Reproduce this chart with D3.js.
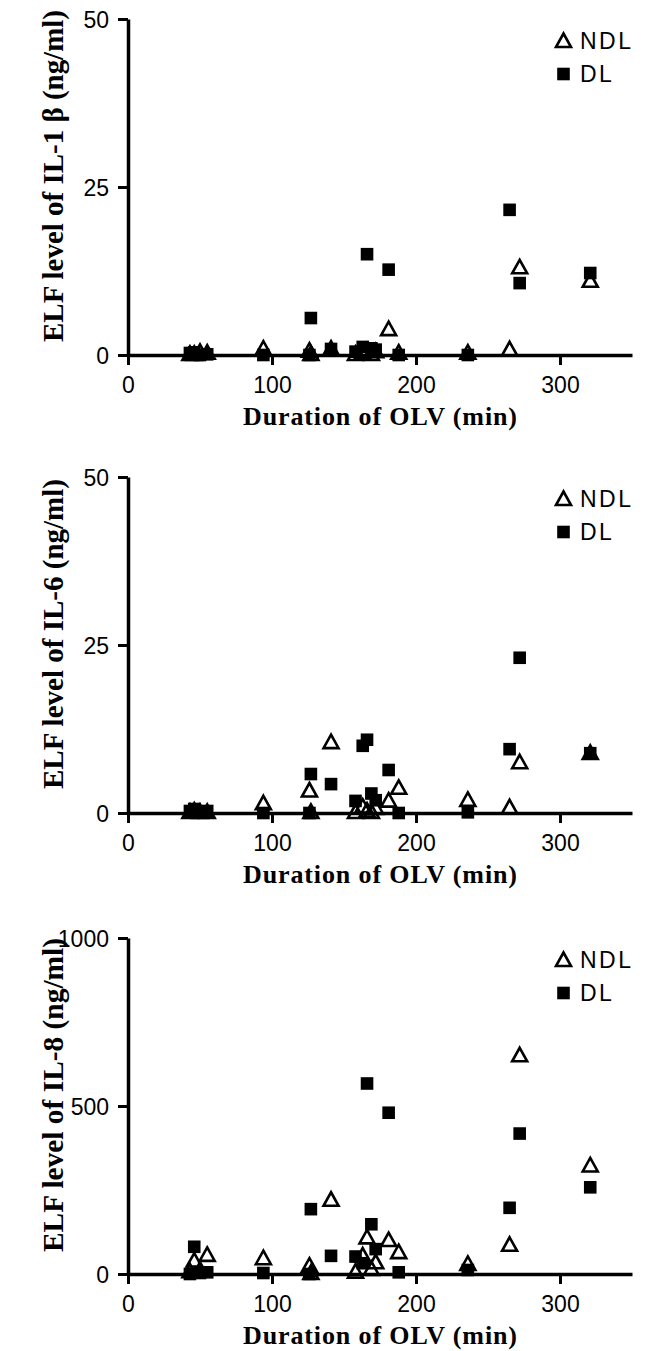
<!DOCTYPE html>
<html>
<head>
<meta charset="utf-8">
<script src="https://cdn.jsdelivr.net/npm/d3@7"></script>
<style>
  html, body { margin: 0; padding: 0; background: #fff; }
  svg { display: block; }
</style>
</head>
<body>
<svg id="chart" width="648" height="1351"></svg>
<script>
// Duration of OLV (min) for each patient (shared across panels)
const duration = [43, 46, 50, 55, 94, 126, 127, 141, 158, 163, 166, 169, 172, 181, 188, 236, 265, 272, 321];

// IL-1 beta (ng/ml)
const il1bNDL = [0, 0, 0.3, 0.2, 0.8, 0.5, 0, 0.8, 0, 0.3, 0.5, 0, 0.4, 3.7, 0.2, 0.2, 0.7, 12.9, 10.9];
const il1bDL  = [0.3, 0.4, 0, 0.1, 0, 0, 5.5, 0.9, 0.5, 1.2, 15.0, 1.0, 0.8, 12.7, 0, 0, 21.6, 10.7, 12.2];

// IL-6 (ng/ml)
const il6NDL = [0, 0.2, 0, 0, 1.3, 3.2, 0, 10.4, 0, 0.8, 0.2, 0, 0.6, 1.7, 3.6, 1.8, 0.7, 7.4, 8.8];
const il6DL  = [0.3, 0.6, 0.2, 0.3, 0, 0, 5.8, 4.3, 1.8, 10.0, 10.9, 2.9, 1.9, 6.4, 0, 0.1, 9.5, 23.1, 8.9];

// IL-8 (ng/ml)
const il8NDL = [5, 37, 10, 54, 44, 22, 0, 218, 4, 52, 106, 12, 32, 98, 62, 27, 84, 648, 320];
const il8DL  = [0, 81, 3, 5, 3, 0, 193, 54, 52, 32, 567, 148, 74, 480, 5, 12, 197, 418, 258];

const xTicks = [0, 100, 200, 300];
const yTicksSmall = [0, 25, 50];
const yTicksIL8 = [0, 500, 1000];
const yTitles = ["ELF level of IL-1 \u03b2 (ng/ml)", "ELF level of IL-6 (ng/ml)", "ELF level of IL-8 (ng/ml)"];
const xTitle = "Duration of OLV (min)";
const legendLabels = ["NDL", "DL"];

const panels = [
  { title: yTitles[0], titleLen: 332, yMax: 50, yTicks: yTicksSmall, ndl: il1bNDL, dl: il1bDL, top: 19, bottom: 355 },
  { title: yTitles[1], titleLen: 310, yMax: 50, yTicks: yTicksSmall, ndl: il6NDL, dl: il6DL, top: 477, bottom: 813 },
  { title: yTitles[2], titleLen: 314, yMax: 1000, yTicks: yTicksIL8, ndl: il8NDL, dl: il8DL, top: 938, bottom: 1274 }
];

const svg = d3.select("#chart");
const x = d3.scaleLinear().domain([0, 350]).range([128, 632]);
const tickFont = "'Liberation Sans', Arial, sans-serif";
const titleFont = "'Liberation Serif', 'Times New Roman', serif";
const triPath = "M0,-8.5L7.5,5L-7.5,5Z";

panels.forEach(p => {
  const y = d3.scaleLinear().domain([0, p.yMax]).range([p.bottom, p.top]);
  const g = svg.append("g");

  // Data: squares (DL) first, then open triangles (NDL)
  g.append("g").selectAll("rect").data(duration).join("rect")
    .attr("x", (d) => x(d) - 6.3)
    .attr("y", (d, i) => y(p.dl[i]) - 6.3)
    .attr("width", 12.6).attr("height", 12.6)
    .attr("fill", "#000");

  g.append("g").selectAll("path").data(duration).join("path")
    .attr("d", triPath)
    .attr("transform", (d, i) => `translate(${x(d)},${y(p.ndl[i])})`)
    .attr("fill", "none").attr("stroke", "#000").attr("stroke-width", 2.6)
    .attr("stroke-linejoin", "miter");

  // x axis
  const xa = g.append("g").attr("transform", `translate(0,${p.bottom})`)
    .call(d3.axisBottom(x).tickValues(xTicks).tickSize(10).tickSizeOuter(0).tickPadding(12).tickFormat(d3.format("d")));
  // y axis
  const ya = g.append("g").attr("transform", `translate(${x(0)},0)`)
    .call(d3.axisLeft(y).tickValues(p.yTicks).tickSize(10).tickSizeOuter(0).tickPadding(9).tickFormat(d3.format("d")));

  [xa, ya].forEach(a => {
    a.select(".domain").attr("stroke-width", 3.5).attr("stroke", "#000");
    a.selectAll(".tick line").attr("stroke-width", 3).attr("stroke", "#000");
    a.selectAll(".tick text").attr("font-family", tickFont).attr("font-size", 23).attr("fill", "#000");
  });
  ya.selectAll(".tick text").attr("dy", "0.36em");

  // titles
  g.append("text")
    .attr("x", (x(0) + x(350)) / 2).attr("y", p.bottom + 70)
    .attr("text-anchor", "middle")
    .attr("font-family", titleFont).attr("font-weight", "bold").attr("font-size", 26)
    .attr("textLength", 274)
    .text(xTitle);

  g.append("text")
    .attr("transform", `translate(63,${(p.top + p.bottom) / 2 - 11}) rotate(-90)`)
    .attr("text-anchor", "middle")
    .attr("font-family", titleFont).attr("font-weight", "bold").attr("font-size", 29)
    .attr("textLength", p.titleLen).attr("lengthAdjust", "spacingAndGlyphs")
    .text(p.title);

  // legend
  const lg = g.append("g");
  lg.append("path").attr("d", triPath)
    .attr("transform", `translate(563.5,${p.top + 23})`)
    .attr("fill", "none").attr("stroke", "#000").attr("stroke-width", 2.6);
  lg.append("rect").attr("x", 557.2).attr("y", p.top + 55 - 6.3)
    .attr("width", 12.6).attr("height", 12.6).attr("fill", "#000");
  lg.append("text").attr("x", 580).attr("y", p.top + 30)
    .attr("font-family", tickFont).attr("font-size", 23).attr("letter-spacing", 2.5)
    .text(legendLabels[0]);
  lg.append("text").attr("x", 580).attr("y", p.top + 63)
    .attr("font-family", tickFont).attr("font-size", 23).attr("letter-spacing", 2.5)
    .text(legendLabels[1]);
});
</script>
</body>
</html>
